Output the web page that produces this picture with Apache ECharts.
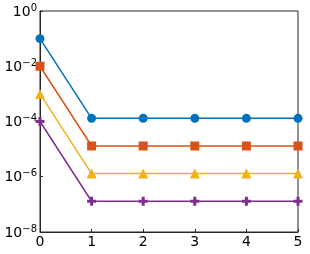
<!DOCTYPE html>
<html><head><meta charset="utf-8">
<script src="https://cdn.jsdelivr.net/npm/echarts@6/dist/echarts.min.js"></script>
<style>html,body{margin:0;padding:0;background:#fff}#c{width:310px;height:254px}</style>
</head><body><div id="c"></div>
<script>
const xCats = [0, 1, 2, 3, 4, 5];
const seriesA = [1e-1, 1.3e-4, 1.3e-4, 1.3e-4, 1.3e-4, 1.3e-4];
const seriesB = [1e-2, 1.3e-5, 1.3e-5, 1.3e-5, 1.3e-5, 1.3e-5];
const seriesC = [1e-3, 1.3e-6, 1.3e-6, 1.3e-6, 1.3e-6, 1.3e-6];
const seriesD = [1e-4, 1.3e-7, 1.3e-7, 1.3e-7, 1.3e-7, 1.3e-7];
const yTickExps = [0, -2, -4, -6, -8];

const plusPath = 'path://M3,0H6V3H9V6H6V9H3V6H0V3H3Z';
function mk(data, color, symbol, size) {
  return {
    type: 'line', data: xCats.map((x, i) => [x, data[i]]),
    lineStyle: { color: color, width: 1.5 },
    itemStyle: { color: color },
    symbol: symbol, symbolSize: size, showSymbol: true,
    animation: false
  };
}
const chart = echarts.init(document.getElementById('c'));
chart.setOption({
  animation: false,
  grid: { left: 40, right: 12, top: 11, bottom: 22, show: true, borderColor: '#262626', borderWidth: 1 },
  xAxis: {
    type: 'value', min: 0, max: 5, interval: 1,
    axisLine: { lineStyle: { color: '#262626' } },
    axisTick: { inside: true, length: 3, lineStyle: { color: '#262626' } },
    splitLine: { show: false },
    axisLabel: { color: '#000', fontSize: 14, fontFamily: 'DejaVu Sans', margin: 3 }
  },
  yAxis: {
    type: 'log', logBase: 10, min: 1e-8, max: 1, interval: 2,
    axisLine: { show: true, lineStyle: { color: '#262626' } },
    axisTick: { show: true, inside: true, length: 3, lineStyle: { color: '#262626' } },
    minorTick: { show: false },
    splitLine: { show: false },
    axisLabel: {
      color: '#000', fontSize: 14, fontFamily: 'DejaVu Sans', margin: 3,
      formatter: function (v) {
        const e = Math.round(Math.log10(v));
        return '{b|10}{s|' + (e === 0 ? '0' : '\u2212' + (-e)) + '}';
      },
      rich: {
        b: { fontSize: 14, fontFamily: 'DejaVu Sans', color: '#000', verticalAlign: 'bottom', lineHeight: 16 },
        s: { fontSize: 10, fontFamily: 'DejaVu Sans', color: '#000', verticalAlign: 'top', lineHeight: 16, padding: [0, 0, 8, 0] }
      }
    }
  },
  series: [
    mk(seriesA, '#0072BD', 'circle', 9),
    mk(seriesB, '#D95319', 'rect', 9),
    mk(seriesC, '#EDB120', 'triangle', 10),
    mk(seriesD, '#7E2F8E', plusPath, 9)
  ]
});
</script></body></html>
